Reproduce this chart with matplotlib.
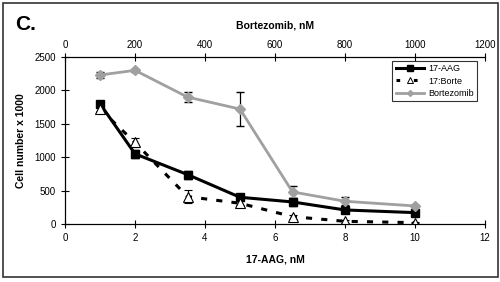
import matplotlib
matplotlib.use("Agg")
import matplotlib.pyplot as plt
from matplotlib.patches import Rectangle
from matplotlib.lines import Line2D

plt.rcParams['font.family'] = ['Liberation Sans', 'DejaVu Sans']

aag_nM = [1, 2, 3.5, 5, 6.5, 8, 10]
bort_nM = [100, 200, 350, 500, 650, 800, 1000]

aag_vals = [1800, 1050, 740, 400, 330, 210, 170]
aag_err = [30, 60, 60, 40, 60, 40, 30]
combo_vals = [1720, 1220, 410, 310, 110, 40, 20]
combo_err = [30, 70, 100, 30, 30, 20, 10]
bort_vals = [2230, 2300, 1900, 1720, 480, 340, 270]
bort_err = [50, 20, 70, 260, 90, 60, 20]

fig = plt.figure(figsize=(5, 2.82), dpi=100)
fig.patches.append(Rectangle((0.006, 0.018), 0.99, 0.972, transform=fig.transFigure,
                             fill=False, edgecolor='#333333', linewidth=1.2))
ax = fig.add_axes([0.13, 0.2057, 0.84, 0.5923])

ax.errorbar(aag_nM, aag_vals, yerr=aag_err, color='black', lw=2.2,
            marker='s', ms=6.3, mfc='black', mec='black', ecolor='black',
            elinewidth=0.9, capsize=3, zorder=4)
ax.errorbar(aag_nM, combo_vals, yerr=combo_err, color='black', lw=2.2,
            ls=(0, (2, 3)), marker='^', ms=6.5, mfc='white', mec='black',
            mew=0.8, ecolor='black', elinewidth=0.9, capsize=3, zorder=5)

ax.set_xlim(0, 12)
ax.set_ylim(0, 2500)
ax.set_xticks(range(0, 13, 2))
ax.set_yticks(range(0, 2501, 500))
ax.spines['right'].set_visible(False)
ax.tick_params(direction='inout', length=6, width=0.8, labelsize=7)
ax.set_xlabel('17-AAG, nM', fontsize=7.5, fontweight='bold', labelpad=8)
ax.set_ylabel('Cell number x 1000', fontsize=7.5, fontweight='bold', labelpad=6)

ax2 = ax.twiny()
ax2.errorbar(bort_nM, bort_vals, yerr=bort_err, color='#a0a0a0', lw=2.0,
             marker='D', ms=5, mfc='#a0a0a0', mec='#a0a0a0',
             ecolor='black', elinewidth=0.9, capsize=3, zorder=3)
ax2.set_xlim(0, 1200)
ax2.set_xticks(range(0, 1201, 200))
ax2.spines['right'].set_visible(False)
ax2.tick_params(direction='inout', length=6, width=0.8, labelsize=7, pad=2)
ax2.set_xlabel('Bortezomib, nM', fontsize=7.5, fontweight='bold', labelpad=8)

h1 = Line2D([], [], color='black', lw=2.2, marker='s', ms=4, mfc='black')
h2 = Line2D([], [], color='black', lw=2.2, ls=(0, (1.2, 4.5)), marker='^', ms=4,
            mfc='white', mec='black', mew=0.7)
h3 = Line2D([], [], color='#a0a0a0', lw=2.0, marker='D', ms=3, mfc='#a0a0a0')
leg = ax2.legend([h1, h2, h3], ['17-AAG', '17:Borte', 'Bortezomib'],
                 loc='upper right', bbox_to_anchor=(0.985, 0.985), fontsize=6.5,
                 frameon=True, fancybox=False, edgecolor='black',
                 handlelength=3.2, handletextpad=0.4, borderpad=0.35,
                 labelspacing=0.35, borderaxespad=0.2)
leg.get_frame().set_linewidth(0.8)

fig.text(0.03, 0.895, 'C.', fontsize=15, fontweight='bold')

fig.savefig('out.png', dpi=100)
